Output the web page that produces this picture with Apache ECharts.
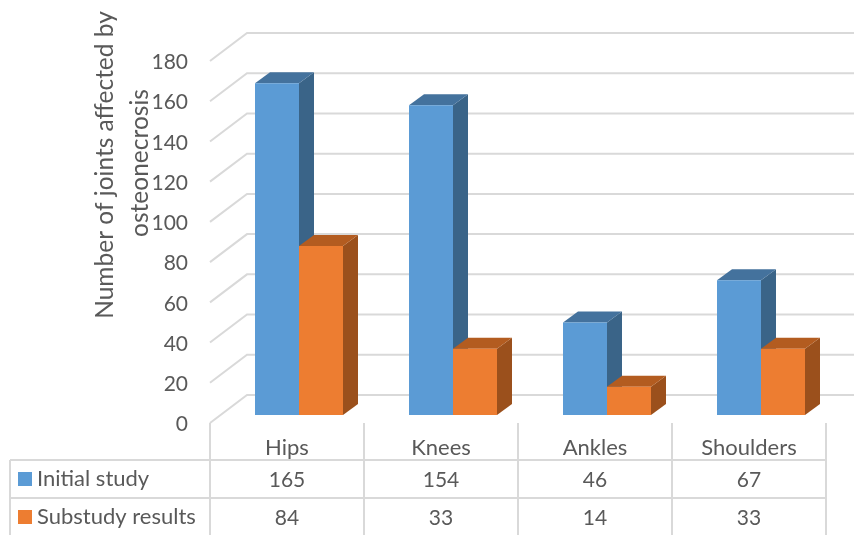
<!DOCTYPE html>
<html>
<head>
<meta charset="utf-8">
<style>html,body{margin:0;padding:0;background:#fff}#c{width:854px;height:535px}</style>
<script src="https://cdn.jsdelivr.net/npm/echarts@6/dist/echarts.min.js"></script>
</head>
<body>
<div id="c"></div>
<script>
const categories = ['Hips', 'Knees', 'Ankles', 'Shoulders'];
const initialStudy = [165, 154, 46, 67];
const substudyResults = [84, 33, 14, 33];
const gridValues = [0, 20, 40, 60, 80, 100, 120, 140, 160, 180];

const FONT = 'Lato';
const TEXT = '#595959';
const LINE = '#D9D9D9';
const WALL = [37, -28];
const BAR_DEPTH = [15, -11];
const BAR_SHIFT = [12, -8];
const BAR_W = 44;
const ROW_Y = [57, 95];

const chart = echarts.init(document.getElementById('c'), null, {renderer: 'canvas'});

function barSeries(name, values, idx, front, top, side) {
  return {
    name, type: 'custom', coordinateSystem: 'cartesian2d', z: 3,
    itemStyle: {color: front},
    encode: {x: 0, y: 1},
    data: values.map((v, i) => [i, v]),
    renderItem(params, api) {
      const base = api.coord([api.value(0), 0]);
      const head = api.coord([api.value(0), api.value(1)]);
      const x0 = base[0] + BAR_SHIFT[0] - BAR_W + idx * BAR_W;
      const x1 = x0 + BAR_W;
      const yb = base[1] + BAR_SHIFT[1];
      const yt = head[1] + BAR_SHIFT[1];
      const [dx, dy] = BAR_DEPTH;
      return {
        type: 'group',
        children: [
          {type: 'polygon', shape: {points: [[x1, yb], [x1 + dx, yb + dy], [x1 + dx, yt + dy], [x1, yt]]}, style: {fill: side}},
          {type: 'polygon', shape: {points: [[x0, yt], [x0 + dx, yt + dy], [x1 + dx, yt + dy], [x1, yt]]}, style: {fill: top}},
          {type: 'rect', shape: {x: x0, y: yt, width: BAR_W, height: yb - yt}, style: {fill: front}},
          {type: 'text', style: {
            text: String(api.value(1)), x: base[0], y: base[1] + ROW_Y[idx],
            fill: TEXT, font: '21px ' + FONT, align: 'center', verticalAlign: 'middle'
          }}
        ]
      };
    }
  };
}

const hLine = (x1, y1, x2, y2) => ({
  type: 'line', z: 1, silent: true,
  shape: {x1, y1, x2, y2}, style: {stroke: LINE, lineWidth: 2}
});

const legendBase = {
  orient: 'horizontal', left: 13, itemWidth: 14, itemHeight: 14, itemGap: 0,
  icon: 'rect', selectedMode: false,
  textStyle: {color: TEXT, fontFamily: FONT, fontSize: 22}
};

chart.setOption({
  animation: false,
  backgroundColor: '#fff',
  grid: {left: 210, right: 28, top: 61, bottom: 112, containLabel: false},
  xAxis: {
    type: 'category', data: categories,
    axisLine: {show: false}, axisTick: {show: false}, splitLine: {show: false},
    axisLabel: {color: TEXT, fontFamily: FONT, fontSize: 22, margin: 14}
  },
  yAxis: {
    type: 'value', min: 0, max: 180, interval: 20,
    axisLine: {show: false}, axisTick: {show: false}, splitLine: {show: false},
    axisLabel: {
      margin: 22, formatter: '{t|{value}}',
      rich: {t: {color: TEXT, fontFamily: FONT, fontSize: 21, padding: [3, 0, 0, 0]}}
    }
  },
  legend: [
    Object.assign({}, legendBase, {top: 463, data: ['Initial study']}),
    Object.assign({}, legendBase, {top: 501, data: ['Substudy results']})
  ],
  graphic: [
    hLine(10, 460, 826, 460), hLine(10, 498, 826, 498), hLine(10, 460, 10, 535),
    hLine(210, 423, 210, 535), hLine(364, 423, 364, 535), hLine(518, 423, 518, 535),
    hLine(672, 423, 672, 535), hLine(826, 423, 826, 535),
    {type: 'text', z: 5, x: 105, y: 165, rotation: Math.PI / 2,
      style: {text: 'Number of joints affected by', fill: TEXT, font: '24.5px ' + FONT, align: 'center', verticalAlign: 'middle'}},
    {type: 'text', z: 5, x: 140, y: 163, rotation: Math.PI / 2,
      style: {text: 'osteonecrosis', fill: TEXT, font: '24.5px ' + FONT, align: 'center', verticalAlign: 'middle'}}
  ],
  series: [
    {
      type: 'custom', coordinateSystem: 'cartesian2d', z: 1, silent: true,
      encode: {y: 0},
      data: gridValues.map(v => [v]),
      renderItem(params, api) {
        const p = api.coord([0, api.value(0)]);
        const x0 = params.coordSys.x;
        const x1 = x0 + params.coordSys.width;
        return {
          type: 'polyline',
          shape: {points: [[x0, p[1]], [x0 + WALL[0], p[1] + WALL[1]], [x1 + WALL[0], p[1] + WALL[1]]]},
          style: {stroke: LINE, lineWidth: 2, fill: null}
        };
      }
    },
    barSeries('Initial study', initialStudy, 0, '#5B9BD5', '#44729D', '#3A6488'),
    barSeries('Substudy results', substudyResults, 1, '#ED7D31', '#B35C20', '#9B501C')
  ]
});
</script>
</body>
</html>
